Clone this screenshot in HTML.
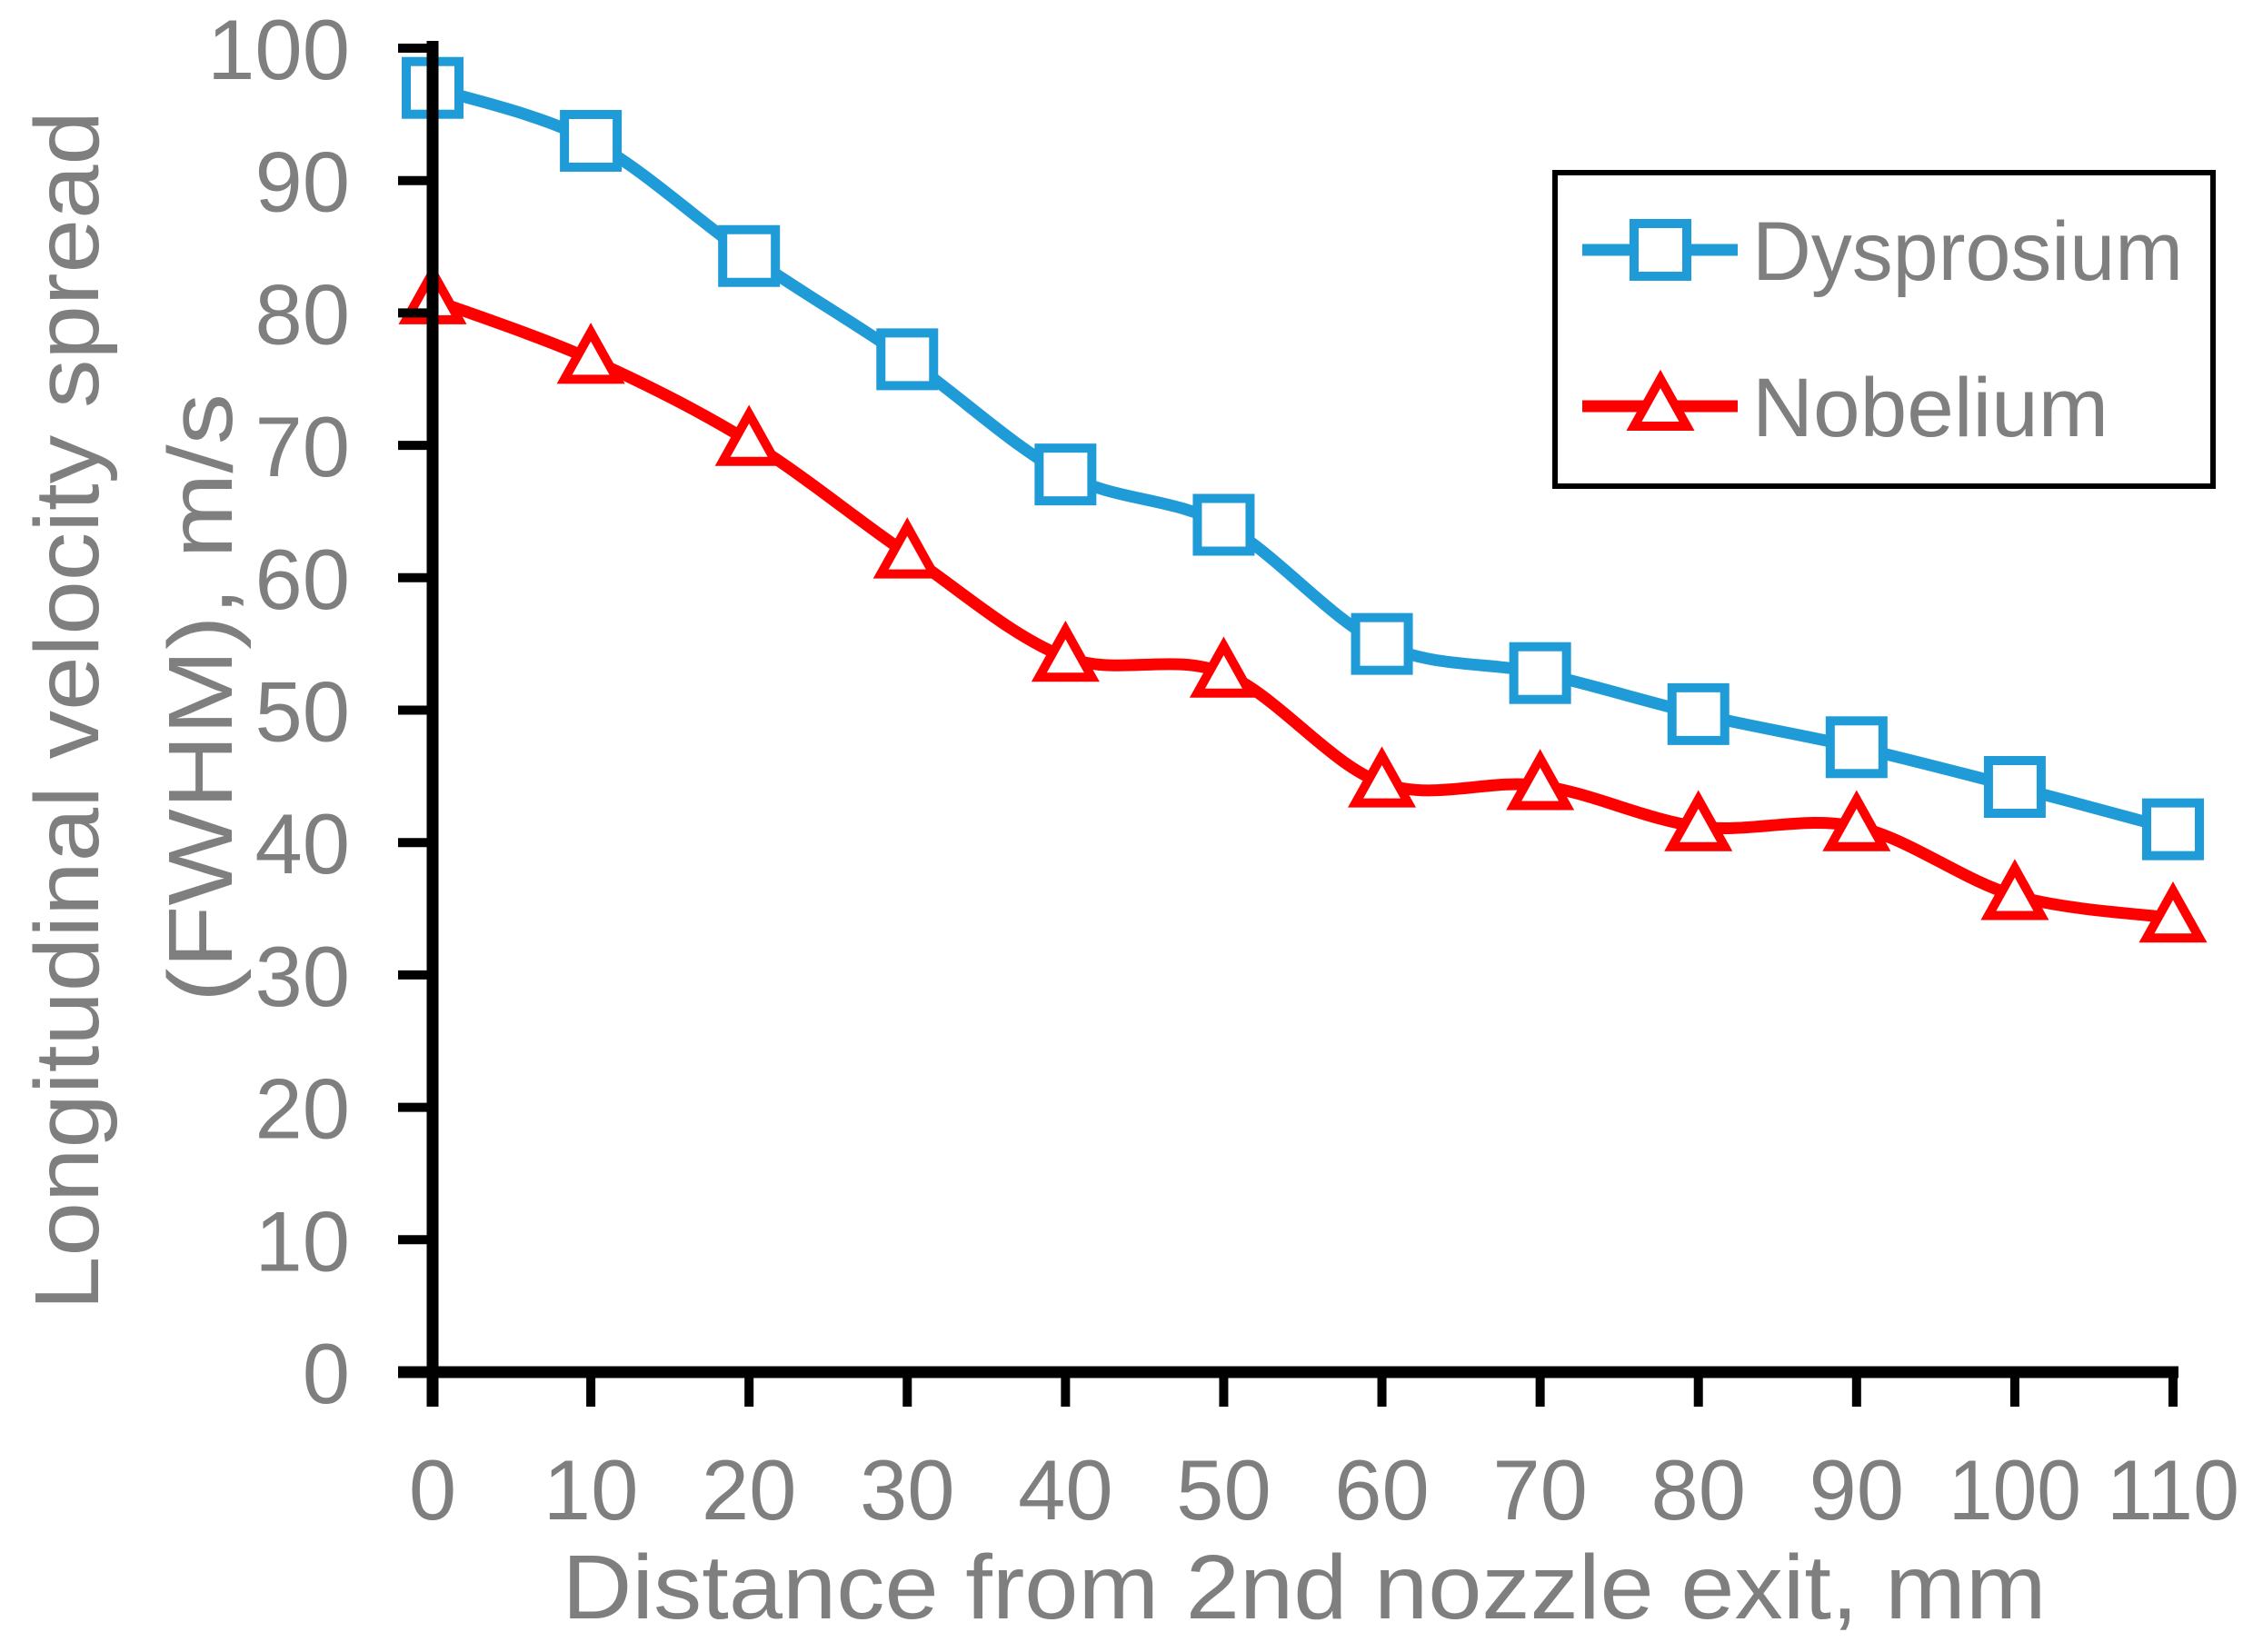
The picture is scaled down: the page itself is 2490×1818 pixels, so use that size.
<!DOCTYPE html>
<html><head><meta charset="utf-8"><style>html,body{margin:0;padding:0;background:#fff}svg{display:block}</style></head>
<body>
<svg id="chart" xmlns="http://www.w3.org/2000/svg" width="2490" height="1818" viewBox="0 0 2490 1818" font-family="Liberation Sans, sans-serif">
<g id="grid"></g>
<text transform="translate(108,782) rotate(-90)" text-anchor="middle" font-size="100" fill="#7f7f7f" textLength="1320" lengthAdjust="spacingAndGlyphs">Longitudinal velocity spread</text>
<text transform="translate(255,768) rotate(-90)" text-anchor="middle" font-size="100" fill="#7f7f7f" textLength="670" lengthAdjust="spacingAndGlyphs">(FWHM), m/s</text>
<text x="1435" y="1781" text-anchor="middle" font-size="100" fill="#7f7f7f" textLength="1633" lengthAdjust="spacingAndGlyphs">Distance from 2nd nozzle exit, mm</text>
<g>
<rect x="1711" y="190" width="724" height="345" fill="#fff" stroke="#000" stroke-width="6"/>
<g>
<line x1="1741" y1="275" x2="1912" y2="275" stroke="#1f9bd7" stroke-width="13"/>
<rect x="1798" y="246" width="58" height="58" fill="#fff" stroke="#1f9bd7" stroke-width="10"/>
<text x="1928" y="308" font-size="92" fill="#7f7f7f" textLength="474" lengthAdjust="spacingAndGlyphs">Dysprosium</text>
</g>
<g>
<line x1="1741" y1="447" x2="1912" y2="447" stroke="#ff0000" stroke-width="13"/>
<polygon points="1827,417 1856,469 1798,469" fill="#fff" stroke="#ff0000" stroke-width="10" stroke-linejoin="miter"/>
<text x="1928" y="480" font-size="92" fill="#7f7f7f" textLength="392" lengthAdjust="spacingAndGlyphs">Nobelium</text>
</g>
</g>
<g id="series"></g>
<g id="axes"></g>
</svg>
<script>
const xCategories = [0,10,20,30,40,50,60,70,80,90,100,110];
const dysprosium = [97,93,84.3,76.5,67.8,64,55,52.8,49.7,47.2,44.2,41];
const nobelium = [81,76.5,70.3,61.8,54,52.8,44.5,44.3,41.2,41.2,36,34.3];
const yTicks = [0,10,20,30,40,50,60,70,80,90,100];
const xTicks = [0,10,20,30,40,50,60,70,80,90,100,110];

const NS='http://www.w3.org/2000/svg';
const X0=476,X1=2391,Y0=1510,Y1=53;
const xs=v=>X0+(v-0)/(110-0)*(X1-X0);
const ys=v=>Y0-(v-0)/(100-0)*(Y0-Y1);
function mk(tag,attrs,parent){const e=document.createElementNS(NS,tag);for(const k in attrs)e.setAttribute(k,attrs[k]);parent.appendChild(e);return e;}
const axes=document.getElementById('axes'), series=document.getElementById('series');

function smooth(pts){let d='M'+pts[0][0]+','+pts[0][1];const t=1/6;
 for(let i=0;i<pts.length-1;i++){const p0=pts[Math.max(i-1,0)],p1=pts[i],p2=pts[i+1],p3=pts[Math.min(i+2,pts.length-1)];
  const c1=[p1[0]+(p2[0]-p0[0])*t,p1[1]+(p2[1]-p0[1])*t],c2=[p2[0]-(p3[0]-p1[0])*t,p2[1]-(p3[1]-p1[1])*t];
  d+=' C'+c1[0]+','+c1[1]+' '+c2[0]+','+c2[1]+' '+p2[0]+','+p2[1];}
 return d;}

function drawSeries(vals,color,name,marker){
 const pts=vals.map((v,i)=>[xs(xCategories[i]),ys(v)]);
 const p=mk('path',{d:smooth(pts),fill:'none',stroke:color,'stroke-width':13},series);
 
 
 pts.forEach((q,i)=>{let m;
  if(marker==='square'){m=mk('rect',{x:q[0]-29,y:q[1]-29,width:58,height:58,fill:'#fff',stroke:color,'stroke-width':10},series);}
  else{m=mk('polygon',{points:`${q[0]},${q[1]-30} ${q[0]+29},${q[1]+22} ${q[0]-29},${q[1]+22}`,fill:'#fff',stroke:color,'stroke-width':10},series);}
  
  
 });
}
drawSeries(dysprosium,'#1f9bd7','dysprosium','square');
drawSeries(nobelium,'#ff0000','nobelium','triangle');

const ya=mk('line',{x1:X0,y1:Y1-8,x2:X0,y2:Y0+38,stroke:'#000','stroke-width':13},axes);


const xa=mk('line',{x1:X0-38,y1:Y0,x2:X1+6,y2:Y0,stroke:'#000','stroke-width':13},axes);


yTicks.forEach(v=>{const y=ys(v);
 const t=mk('line',{x1:X0-38,y1:y,x2:X0,y2:y,stroke:'#000','stroke-width':10},axes);
 
 
 const l=mk('text',{x:385,y:y+34,'text-anchor':'end','font-size':94,fill:'#7f7f7f'},axes);l.textContent=v;
 
 
});
xTicks.forEach(v=>{const x=xs(v);
 const t=mk('line',{x1:x,y1:Y0,x2:x,y2:Y0+38,stroke:'#000','stroke-width':10},axes);
 
 
 const l=mk('text',{x:x,y:1672,'text-anchor':'middle','font-size':94,fill:'#7f7f7f'},axes);l.textContent=v;
 if(String(v).length===3){l.setAttribute('textLength','146');l.setAttribute('lengthAdjust','spacingAndGlyphs');}
 
 
});
</script>
</body></html>
